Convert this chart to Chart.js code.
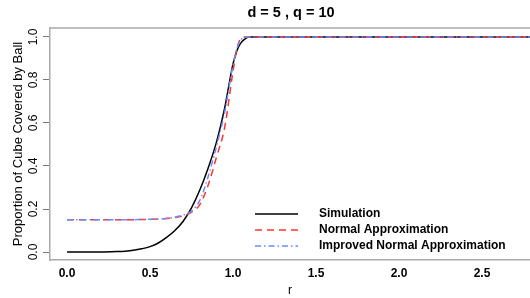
<!DOCTYPE html>
<html>
<head>
<meta charset="utf-8">
<script src="https://cdn.jsdelivr.net/npm/chart.js@4"></script>
<style>
  html, body { margin: 0; padding: 0; background: #fff; }
  #wrap { width: 530px; height: 298px; }
</style>
</head>
<body>
<div id="wrap"><canvas id="coverChart"></canvas></div>
<script>
// r values along the x axis
const rValues = [0, 0.1, 0.2, 0.3, 0.35, 0.4, 0.45, 0.5, 0.55, 0.6, 0.65, 0.7, 0.75, 0.8, 0.85, 0.9, 0.95, 1.0, 1.025, 1.05, 1.075, 1.1, 1.2, 3.0];

// proportion of cube covered, one array per curve
const simulation = [0, 0, 0, 0.002, 0.004, 0.008, 0.015, 0.025, 0.042, 0.068, 0.1, 0.143, 0.205, 0.288, 0.39, 0.51, 0.67, 0.875, 0.94, 0.975, 0.993, 1, 1, 1];
const normalApprox = [0.15, 0.15, 0.15, 0.15, 0.15, 0.15, 0.151, 0.152, 0.153, 0.156, 0.16, 0.168, 0.185, 0.22, 0.31, 0.44, 0.58, 0.84, 0.95, 0.995, 1, 1, 1, 1];
const improvedApprox = [0.15, 0.15, 0.15, 0.15, 0.15, 0.15, 0.151, 0.152, 0.153, 0.156, 0.162, 0.172, 0.19, 0.24, 0.35, 0.49, 0.65, 0.87, 0.95, 0.99, 1, 1, 1, 1];

const seriesLabels = ['Simulation', 'Normal Approximation', 'Improved Normal Approximation'];
const xTicks = [0, 0.5, 1.0, 1.5, 2.0, 2.5];
const yTicks = [0, 0.2, 0.4, 0.6, 0.8, 1.0];
const chartTitle = 'd = 5 , q = 10';

const FONT = '"Liberation Sans", Arial, sans-serif';

function toPoints(ys) {
  return rValues.map((r, i) => ({ x: r, y: ys[i] }));
}

// title, top border of the box, and the legend inside the plot
const extrasPlugin = {
  id: 'extras',
  afterDraw(chart) {
    const { ctx, chartArea } = chart;
    ctx.save();
    ctx.strokeStyle = '#aaaaaa';
    ctx.lineWidth = 1.5;
    ctx.beginPath();
    ctx.moveTo(chartArea.left, chartArea.top);
    ctx.lineTo(chartArea.right, chartArea.top);
    ctx.stroke();

    ctx.fillStyle = '#000';
    ctx.font = 'bold 14.5px ' + FONT;
    ctx.textAlign = 'center';
    ctx.textBaseline = 'middle';
    ctx.fillText(chartTitle, 291, 13);

    const rows = [214, 230, 246];
    ctx.font = 'bold 12px ' + FONT;
    ctx.textAlign = 'left';
    chart.data.datasets.forEach((ds, i) => {
      ctx.strokeStyle = ds.borderColor;
      ctx.lineWidth = ds.borderWidth;
      ctx.setLineDash(ds.borderDash || []);
      ctx.beginPath();
      ctx.moveTo(255, rows[i]);
      ctx.lineTo(298, rows[i]);
      ctx.stroke();
      ctx.setLineDash([]);
      ctx.fillText(ds.label, 319, rows[i]);
    });
    ctx.restore();
  }
};

new Chart(document.getElementById('coverChart').getContext('2d'), {
  type: 'line',
  data: {
    datasets: [{
      label: seriesLabels[0],
      data: toPoints(simulation),
      borderColor: '#000000',
      borderWidth: 1.5,
      order: 3
    }, {
      label: seriesLabels[1],
      data: toPoints(normalApprox),
      borderColor: '#ff3333',
      borderWidth: 1.5,
      borderDash: [7, 5],
      order: 2
    }, {
      label: seriesLabels[2],
      data: toPoints(improvedApprox),
      borderColor: '#6b8cff',
      borderWidth: 1.5,
      borderDash: [6, 3, 1.5, 3],
      order: 1
    }]
  },
  options: {
    responsive: true,
    maintainAspectRatio: false,
    animation: false,
    events: [],
    layout: { padding: { top: 28, left: 0, right: 0, bottom: 0 } },
    elements: {
      point: { radius: 0 },
      line: { cubicInterpolationMode: 'monotone', fill: false }
    },
    plugins: {
      legend: { display: false },
      title: { display: false },
      tooltip: { enabled: false }
    },
    scales: {
      x: {
        type: 'linear',
        min: -17 / 166,
        max: 463 / 166,
        afterBuildTicks: axis => { axis.ticks = xTicks.map(v => ({ value: v })); },
        afterFit: axis => { axis.height = 38; },
        grid: { display: false, drawTicks: false, tickLength: 0 },
        border: { display: true, color: '#aaaaaa', width: 1.5 },
        ticks: {
          color: '#000',
          font: { family: FONT, size: 12, weight: 'bold' },
          padding: 6,
          maxRotation: 0,
          autoSkip: false,
          callback: v => Number(v).toFixed(1)
        },
        title: {
          display: true,
          text: 'r',
          color: '#000',
          font: { family: FONT, size: 12 },
          padding: { top: 0, bottom: 0 }
        }
      },
      y: {
        type: 'linear',
        min: -8 / 215,
        max: 1 + 9 / 215,
        afterBuildTicks: axis => { axis.ticks = yTicks.map(v => ({ value: v })); },
        afterFit: axis => { axis.width = 50; },
        grid: { drawOnChartArea: false, drawTicks: true, tickLength: 7, color: '#777' },
        border: { display: true, color: '#aaaaaa', width: 1.5 },
        ticks: {
          color: '#000',
          font: { family: FONT, size: 12 },
          padding: 1,
          minRotation: 90,
          maxRotation: 90,
          crossAlign: 'center',
          autoSkip: false,
          callback: v => Number(v).toFixed(1)
        },
        title: {
          display: true,
          text: 'Proportion of Cube Covered by Ball',
          color: '#000',
          font: { family: FONT, size: 13 },
          padding: { top: 11, bottom: 0 }
        }
      }
    }
  },
  plugins: [extrasPlugin]
});
</script>
</body>
</html>
